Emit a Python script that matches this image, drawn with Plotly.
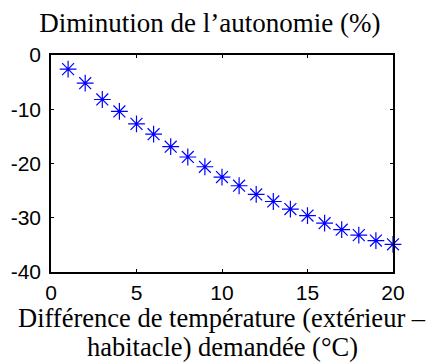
import plotly.graph_objects as go

delta_t = list(range(1, 21))
diminution = [-2.6, -5.2, -8.2, -10.4, -12.7, -14.6, -16.9, -18.8, -20.6, -22.5,
              -24.1, -25.7, -27.0, -28.4, -29.6, -31.0, -32.2, -33.2, -34.2, -34.9]
x_ticks = [0, 5, 10, 15, 20]
y_ticks = [0, -10, -20, -30, -40]

fig = go.Figure()
fig.add_trace(go.Scatter(
    x=delta_t, y=diminution, mode="markers",
    marker=dict(symbol="asterisk-open", size=14, color="#0000ff",
                line=dict(color="#0000ff", width=1.2)),
    showlegend=False, cliponaxis=False,
))

axis_common = dict(
    showgrid=False, zeroline=False, showline=True, linecolor="black", linewidth=1.5,
    mirror="allticks", ticks="inside", ticklen=3, tickcolor="black", tickwidth=1,
    automargin=False,
    tickfont=dict(family="Liberation Sans, Arial", size=21, color="black"),
)

serif = dict(family="Liberation Serif, Times New Roman", size=27, color="black")
serif_lbl = dict(family="Liberation Serif, Times New Roman", size=26.5, color="black")

fig.update_layout(
    width=432, height=363,
    margin=dict(l=51, r=39, t=55, b=91, autoexpand=False),
    paper_bgcolor="white", plot_bgcolor="white",
    title=dict(text="Diminution de l’autonomie (%)", x=0.486, xref="container", xanchor="center",
               y=0.937, yref="container", yanchor="middle", automargin=False,
               font=serif),
    xaxis=dict(range=[0, 20], tickvals=x_ticks, ticktext=[str(v) for v in x_ticks],
               ticklabelstandoff=1, **axis_common),
    yaxis=dict(range=[-40, 0], tickvals=y_ticks, ticktext=[str(v) for v in y_ticks],
               ticklabelstandoff=4, **axis_common),
)
fig.add_annotation(text="Différence de température (extérieur –", xref="paper", yref="paper",
                   x=0.5, y=0, yshift=-46, xanchor="center", yanchor="middle",
                   showarrow=False, font=serif_lbl)
fig.add_annotation(text="habitacle) demandée (°C)", xref="paper", yref="paper",
                   x=0.5, y=0, yshift=-75, xanchor="center", yanchor="middle",
                   showarrow=False, font=serif_lbl)

fig.write_html("out.html")
